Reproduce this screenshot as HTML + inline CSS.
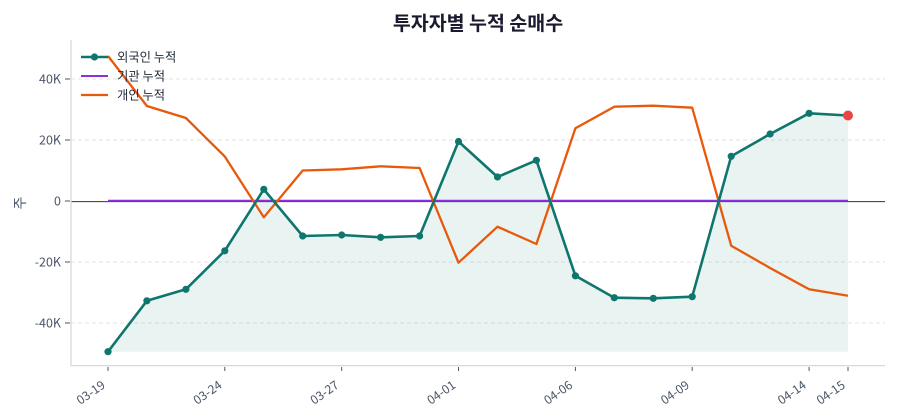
<!DOCTYPE html>
<html><head><meta charset="utf-8"><style>
html,body{margin:0;padding:0;background:#fff;}
svg{display:block;font-family:"Noto Sans CJK KR","Liberation Sans",sans-serif;}
</style></head><body>
<svg width="900" height="420" viewBox="0 0 900 420" xmlns="http://www.w3.org/2000/svg">
<rect width="900" height="420" fill="#fff"/>
<text x="478" y="30" text-anchor="middle" font-size="19.5" font-weight="bold" fill="#1a1a2e">투자자별 누적 순매수</text>
<g stroke="#e2e2e2" stroke-width="1" stroke-dasharray="4,3">
<line x1="71" y1="79" x2="885" y2="79"/>
<line x1="71" y1="140" x2="885" y2="140"/>
<line x1="71" y1="262" x2="885" y2="262"/>
<line x1="71" y1="323" x2="885" y2="323"/>
</g>
<polygon fill="#0f766e" fill-opacity="0.09" points="108,351.7 108,351.7 146.9,300.8 185.9,289.3 224.8,250.8 263.8,189.3 302.7,236 341.7,235 380.6,237.3 419.6,236 458.5,141.5 497.5,177 536.4,160.3 575.4,275.8 614.3,297.7 653.3,298.3 692.2,296.7 731.2,156.3 770.1,134 809.1,113.3 848,115.5 848,351.7"/>
<line x1="71" y1="201.6" x2="885" y2="201.6" stroke="#333" stroke-width="1"/>
<line x1="108" y1="200.8" x2="848" y2="200.8" stroke="#8b2fe0" stroke-width="2"/>
<polyline fill="none" stroke="#e8590c" stroke-width="2.3" stroke-linejoin="round" points="108,56 146.9,106 185.9,118 224.8,156.5 263.8,217.3 302.7,170.5 341.7,169.3 380.6,166.3 419.6,168 458.5,262.7 497.5,226.7 536.4,244 575.4,128.3 614.3,106.7 653.3,105.7 692.2,107.7 731.2,245.7 770.1,268 809.1,289.3 848,295.7"/>
<polyline fill="none" stroke="#0f766e" stroke-width="2.6" stroke-linejoin="round" points="108,351.7 146.9,300.8 185.9,289.3 224.8,250.8 263.8,189.3 302.7,236 341.7,235 380.6,237.3 419.6,236 458.5,141.5 497.5,177 536.4,160.3 575.4,275.8 614.3,297.7 653.3,298.3 692.2,296.7 731.2,156.3 770.1,134 809.1,113.3 848,115.5"/>
<g fill="#0f766e">
<circle cx="108" cy="351.7" r="3.6"/><circle cx="146.9" cy="300.8" r="3.6"/><circle cx="185.9" cy="289.3" r="3.6"/><circle cx="224.8" cy="250.8" r="3.6"/><circle cx="263.8" cy="189.3" r="3.6"/><circle cx="302.7" cy="236" r="3.6"/><circle cx="341.7" cy="235" r="3.6"/><circle cx="380.6" cy="237.3" r="3.6"/><circle cx="419.6" cy="236" r="3.6"/><circle cx="458.5" cy="141.5" r="3.6"/><circle cx="497.5" cy="177" r="3.6"/><circle cx="536.4" cy="160.3" r="3.6"/><circle cx="575.4" cy="275.8" r="3.6"/><circle cx="614.3" cy="297.7" r="3.6"/><circle cx="653.3" cy="298.3" r="3.6"/><circle cx="692.2" cy="296.7" r="3.6"/><circle cx="731.2" cy="156.3" r="3.6"/><circle cx="770.1" cy="134" r="3.6"/><circle cx="809.1" cy="113.3" r="3.6"/>
</g>
<circle cx="848" cy="115.5" r="5" fill="#ef4444"/>
<!-- spines -->
<line x1="71" y1="40" x2="71" y2="366" stroke="#d5d9de" stroke-width="1.3"/>
<line x1="70.4" y1="365.6" x2="885" y2="365.6" stroke="#d5d9de" stroke-width="1.3"/>
<g stroke="#555" stroke-width="1">
<line x1="65" y1="79" x2="70" y2="79"/><line x1="65" y1="140" x2="70" y2="140"/><line x1="65" y1="201" x2="70" y2="201"/><line x1="65" y1="262" x2="70" y2="262"/><line x1="65" y1="323" x2="70" y2="323"/>
<line x1="108" y1="367" x2="108" y2="371"/><line x1="224.8" y1="367" x2="224.8" y2="371"/><line x1="341.7" y1="367" x2="341.7" y2="371"/><line x1="458.5" y1="367" x2="458.5" y2="371"/><line x1="575.4" y1="367" x2="575.4" y2="371"/><line x1="692.2" y1="367" x2="692.2" y2="371"/><line x1="809.1" y1="367" x2="809.1" y2="371"/><line x1="848" y1="367" x2="848" y2="371"/>
</g>
<g font-size="12.5" fill="#4a5568" text-anchor="end">
<text x="61" y="83.5">40K</text>
<text x="61" y="144.5">20K</text>
<text x="61" y="205.5">0</text>
<text x="61" y="266.5">-20K</text>
<text x="61" y="327.5">-40K</text>
</g>
<text transform="translate(25,203) rotate(-90)" text-anchor="middle" font-size="14" fill="#4a5568">주</text>
<g font-size="12.2" fill="#4a5568" text-anchor="end">
<text transform="translate(106,387) rotate(-35)">03-19</text>
<text transform="translate(222.8,387) rotate(-35)">03-24</text>
<text transform="translate(339.7,387) rotate(-35)">03-27</text>
<text transform="translate(456.5,387) rotate(-35)">04-01</text>
<text transform="translate(573.4,387) rotate(-35)">04-06</text>
<text transform="translate(690.2,387) rotate(-35)">04-09</text>
<text transform="translate(807.1,387) rotate(-35)">04-14</text>
<text transform="translate(846,387) rotate(-35)">04-15</text>
</g>
<!-- legend -->
<line x1="81" y1="57" x2="108" y2="57" stroke="#0f766e" stroke-width="2.6"/>
<circle cx="94.5" cy="57" r="3.6" fill="#0f766e"/>
<line x1="81" y1="76" x2="108" y2="76" stroke="#8b2fe0" stroke-width="2"/>
<line x1="81" y1="95" x2="108" y2="95" stroke="#e8590c" stroke-width="2.3"/>
<g font-size="12.3" fill="#1f2937">
<text x="117" y="61.5">외국인 누적</text>
<text x="117" y="80.5">기관 누적</text>
<text x="117" y="99.5">개인 누적</text>
</g>
</svg>
</body></html>
